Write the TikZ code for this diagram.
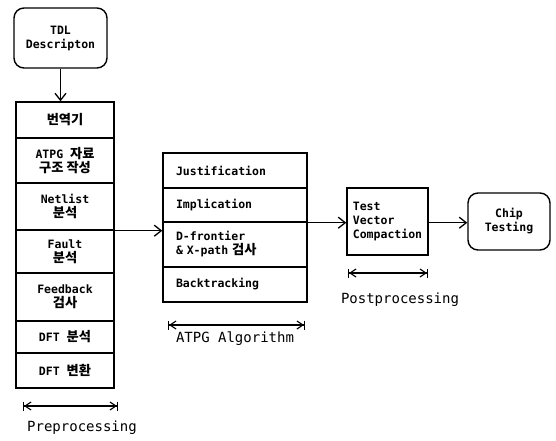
\documentclass[tikz,border=0pt]{standalone}
\usepackage{fontspec}
\setmainfont{DejaVu Sans Mono}
\newfontfamily\kr{Noto Sans CJK KR}[Scale=1.15]
\usetikzlibrary{arrows.meta,positioning}

\tikzset{
  row/.style={draw, line width=1.4pt, inner sep=1pt, align=center,
    font=\fontsize{11.5}{14}\selectfont\bfseries},
  prerow/.style={row, minimum width=98pt},
  midrow/.style={row, minimum width=144pt, align=left, text width=118pt},
  endbox/.style={row, rounded corners=10pt},
  flow/.style={line width=1.3pt, -{Straight Barb[length=7pt,width=11pt]}},
  span/.style={line width=1.1pt,
    {Bar[width=9pt]Straight Barb[length=6pt,width=8pt]}-{Straight Barb[length=6pt,width=8pt]Bar[width=9pt]}},
  caption/.style={font=\fontsize{14}{16}\selectfont}
}

\begin{document}
\begin{tikzpicture}[x=1pt,y=-1pt]
\useasboundingbox (0,0) rectangle (556,440);
% input
\node[endbox, minimum width=93pt, minimum height=60pt] (tdl) at (60.5,38) {TDL\\Descripton};
% preprocessing stack
\node[prerow, minimum height=36pt] (trans)  at (65,120)   {\kr 번역기};
\node[prerow, minimum height=45pt] (struct) at (65,160.5) {ATPG {\kr 자료}\\{\kr 구조 작성}};
\node[prerow, minimum height=47pt] (netlist) at (65,206.5) {Netlist\\{\kr 분석}};
\node[prerow, minimum height=43pt] (fault)  at (65,251.5) {Fault\\{\kr 분석}};
\node[prerow, minimum height=48pt] (feedb)  at (65,297)   {Feedback\\{\kr 검사}};
\node[prerow, minimum height=32pt] (dftana) at (65,337)   {DFT {\kr 분석}};
\node[prerow, minimum height=35pt] (dftcon) at (65,370.5) {DFT {\kr 변환}};
% ATPG stack
\node[midrow, minimum height=35pt] (justif) at (235,170.5) {Justification};
\node[midrow, minimum height=34pt] (implic) at (235,205)   {Implication};
\node[midrow, minimum height=45pt] (dfront) at (235,244.5) {D-frontier\\\& X-path {\kr 검사}};
\node[midrow, minimum height=35pt] (backtr) at (235,284.5) {Backtracking};
% postprocessing and test
\node[row, minimum width=81pt, minimum height=67pt, align=left] (compact) at (387.5,221.5) {Test\\Vector\\Compaction};
\node[endbox, minimum width=82pt, minimum height=57pt] (chip) at (509,221.5) {Chip\\Testing};
% flow
\draw[flow] (tdl.south) -- (trans.north -| tdl.south);
\draw[flow] (netlist.south east) -- (dfront.west |- netlist.south east);
\draw[flow] (implic.south east) -- (compact.west |- implic.south east);
\draw[flow] (compact.east |- implic.south east) -- (chip.west |- implic.south east);
% spans
\coordinate (preL) at (23,406);
\coordinate (preR) at (118,406);
\coordinate (midL) at (168,325);
\coordinate (midR) at (305,325);
\coordinate (postL) at (348,273);
\coordinate (postR) at (428,273);
\draw[span] (preL) -- (preR);
\draw[span] (midL) -- (midR);
\draw[span] (postL) -- (postR);
\node[caption] (prelab)  at (82,428)  {Preprocessing};
\node[caption] (midlab)  at (235,339) {ATPG Algorithm};
\node[caption] (postlab) at (400,300) {Postprocessing};
\end{tikzpicture}
\end{document}
